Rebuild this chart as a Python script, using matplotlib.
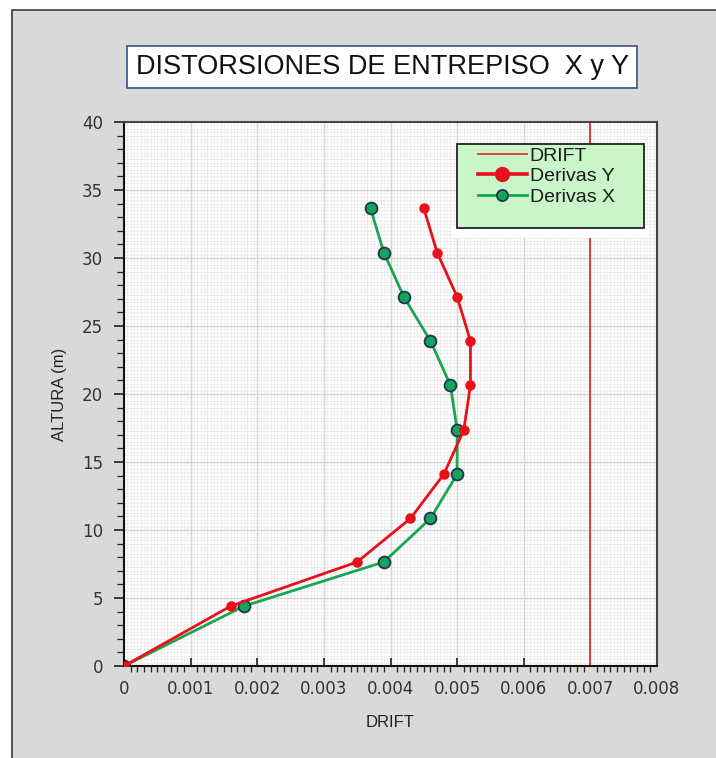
import numpy as np
import matplotlib
matplotlib.use("Agg")
import matplotlib.pyplot as plt
from matplotlib.ticker import MultipleLocator, FormatStrFormatter
from matplotlib.patches import Rectangle

# story heights (m) and interstory drifts
alturas = [0, 4.4, 7.65, 10.85, 14.1, 17.35, 20.65, 23.9, 27.15, 30.4, 33.65]
deriva_x = [0, 0.0018, 0.0039, 0.0046, 0.0050, 0.0050, 0.0049, 0.0046, 0.0042, 0.0039, 0.0037]
deriva_y = [0, 0.0016, 0.0035, 0.0043, 0.0048, 0.0051, 0.0052, 0.0052, 0.0050, 0.0047, 0.0045]
drift_limite = 0.007
limite_y = [0, 40]

titulo = "DISTORSIONES DE ENTREPISO  X y Y"

fig = plt.figure(figsize=(7.16, 7.58), dpi=100, facecolor="white")
W, H = 716, 758

# gray panel with a dark frame on top/left
fig.patches.append(Rectangle((12 / W, -0.02), 1, 1.02 - 10 / H, transform=fig.transFigure,
                             facecolor="#d9d9d9", edgecolor="#3a3a3a", linewidth=1.2, zorder=-5))

ax = fig.add_axes([124 / W, 1 - 666 / H, (657 - 124) / W, (666 - 122) / H])
ax.set_zorder(2)
ax.set_facecolor("white")
ax.set_xlim(0, 0.008)
ax.set_ylim(0, 40)

# fine background grid
ax.vlines(np.arange(0, 0.008, 0.00005), 0, 40, colors="#ededed", linewidth=0.6, zorder=0)
ax.hlines(np.arange(0, 40, 0.25), 0, 0.008, colors="#ededed", linewidth=0.6, zorder=0)
ax.vlines(np.arange(0.001, 0.008, 0.001), 0, 40, colors="#d4d4d4", linewidth=1.0, zorder=0.5)
ax.hlines(np.arange(5, 40, 5), 0, 0.008, colors="#d4d4d4", linewidth=1.0, zorder=0.5)

ax.plot([drift_limite, drift_limite], limite_y, color="#e03a3a", linewidth=1.4, label="DRIFT", zorder=2)
ax.plot(deriva_y, alturas, color="#e8101a", linewidth=2.0, marker="o", markersize=6.5,
        markerfacecolor="#e8101a", markeredgecolor="#e8101a", label="Derivas Y", zorder=3)
ax.plot(deriva_x, alturas, color="#1aa650", linewidth=2.0, marker="o", markersize=8.5,
        markerfacecolor="#14a55a", markeredgecolor="#1d3550", markeredgewidth=1.3,
        label="Derivas X", zorder=2.5)

ax.xaxis.set_major_locator(MultipleLocator(0.001))
ax.xaxis.set_minor_locator(MultipleLocator(0.0001))
ax.yaxis.set_major_locator(MultipleLocator(5))
ax.yaxis.set_minor_locator(MultipleLocator(1))
ax.xaxis.set_major_formatter(FormatStrFormatter("%g"))

ax.tick_params(axis="x", which="major", direction="in", length=6, width=1.2, color="#222222",
               labelsize=12, labelcolor="#333333", pad=10)
ax.tick_params(axis="x", which="minor", direction="out", length=4, width=0.9, color="#222222")
ax.tick_params(axis="y", which="major", direction="out", length=7, width=1.2, color="#222222",
               labelsize=12, labelcolor="#333333", pad=8)
ax.tick_params(axis="y", which="minor", direction="out", length=5, width=0.9, color="#222222")

for side in ["left", "bottom"]:
    ax.spines[side].set_color("#111111")
    ax.spines[side].set_linewidth(1.5)
for side in ["top", "right"]:
    ax.spines[side].set_color("#444444")
    ax.spines[side].set_linewidth(1.5)

ax.set_xlabel("DRIFT", fontsize=12, family="Liberation Sans", color="#222222", labelpad=12)
ax.set_ylabel("ALTURA (m)", fontsize=12, family="Liberation Sans", color="#222222", labelpad=11)

# legend panel, with a white margin underneath
ax.add_patch(Rectangle(((452 - 124) / 533, (666 - 238) / 544), 197 / 533, 12 / 544,
                       transform=ax.transAxes, facecolor="white", edgecolor="none", zorder=8))
ax.add_patch(Rectangle(((457 - 124) / 533, (666 - 228) / 544), 187 / 533, 84 / 544,
                       transform=ax.transAxes, facecolor="#c9f5c9", edgecolor="#222222",
                       linewidth=1.3, zorder=9))
leg = ax.legend(loc="upper left", bbox_to_anchor=((478 - 124) / 533, (666 - 147) / 544),
                borderaxespad=0, borderpad=0, frameon=False, handlelength=2.5,
                handletextpad=0.15, labelspacing=0.15,
                prop={"family": "Liberation Sans", "size": 14})
hs = leg.legend_handles
hs[0].set_linewidth(1.3)
hs[1].set_linewidth(2.6)
hs[1].set_markersize(10)
hs[2].set_markersize(8)
for txt in leg.get_texts():
    txt.set_color("#1a1a1a")
leg.set_zorder(10)

fig.text(382 / W, 1 - 67 / H, titulo, ha="center", va="center", fontsize=19.5,
         family="Liberation Sans", color="#111111",
         bbox=dict(boxstyle="square,pad=0.3", facecolor="white", edgecolor="#3c4f86", linewidth=1.2))

fig.savefig("out.png", dpi=100, facecolor=fig.get_facecolor())
